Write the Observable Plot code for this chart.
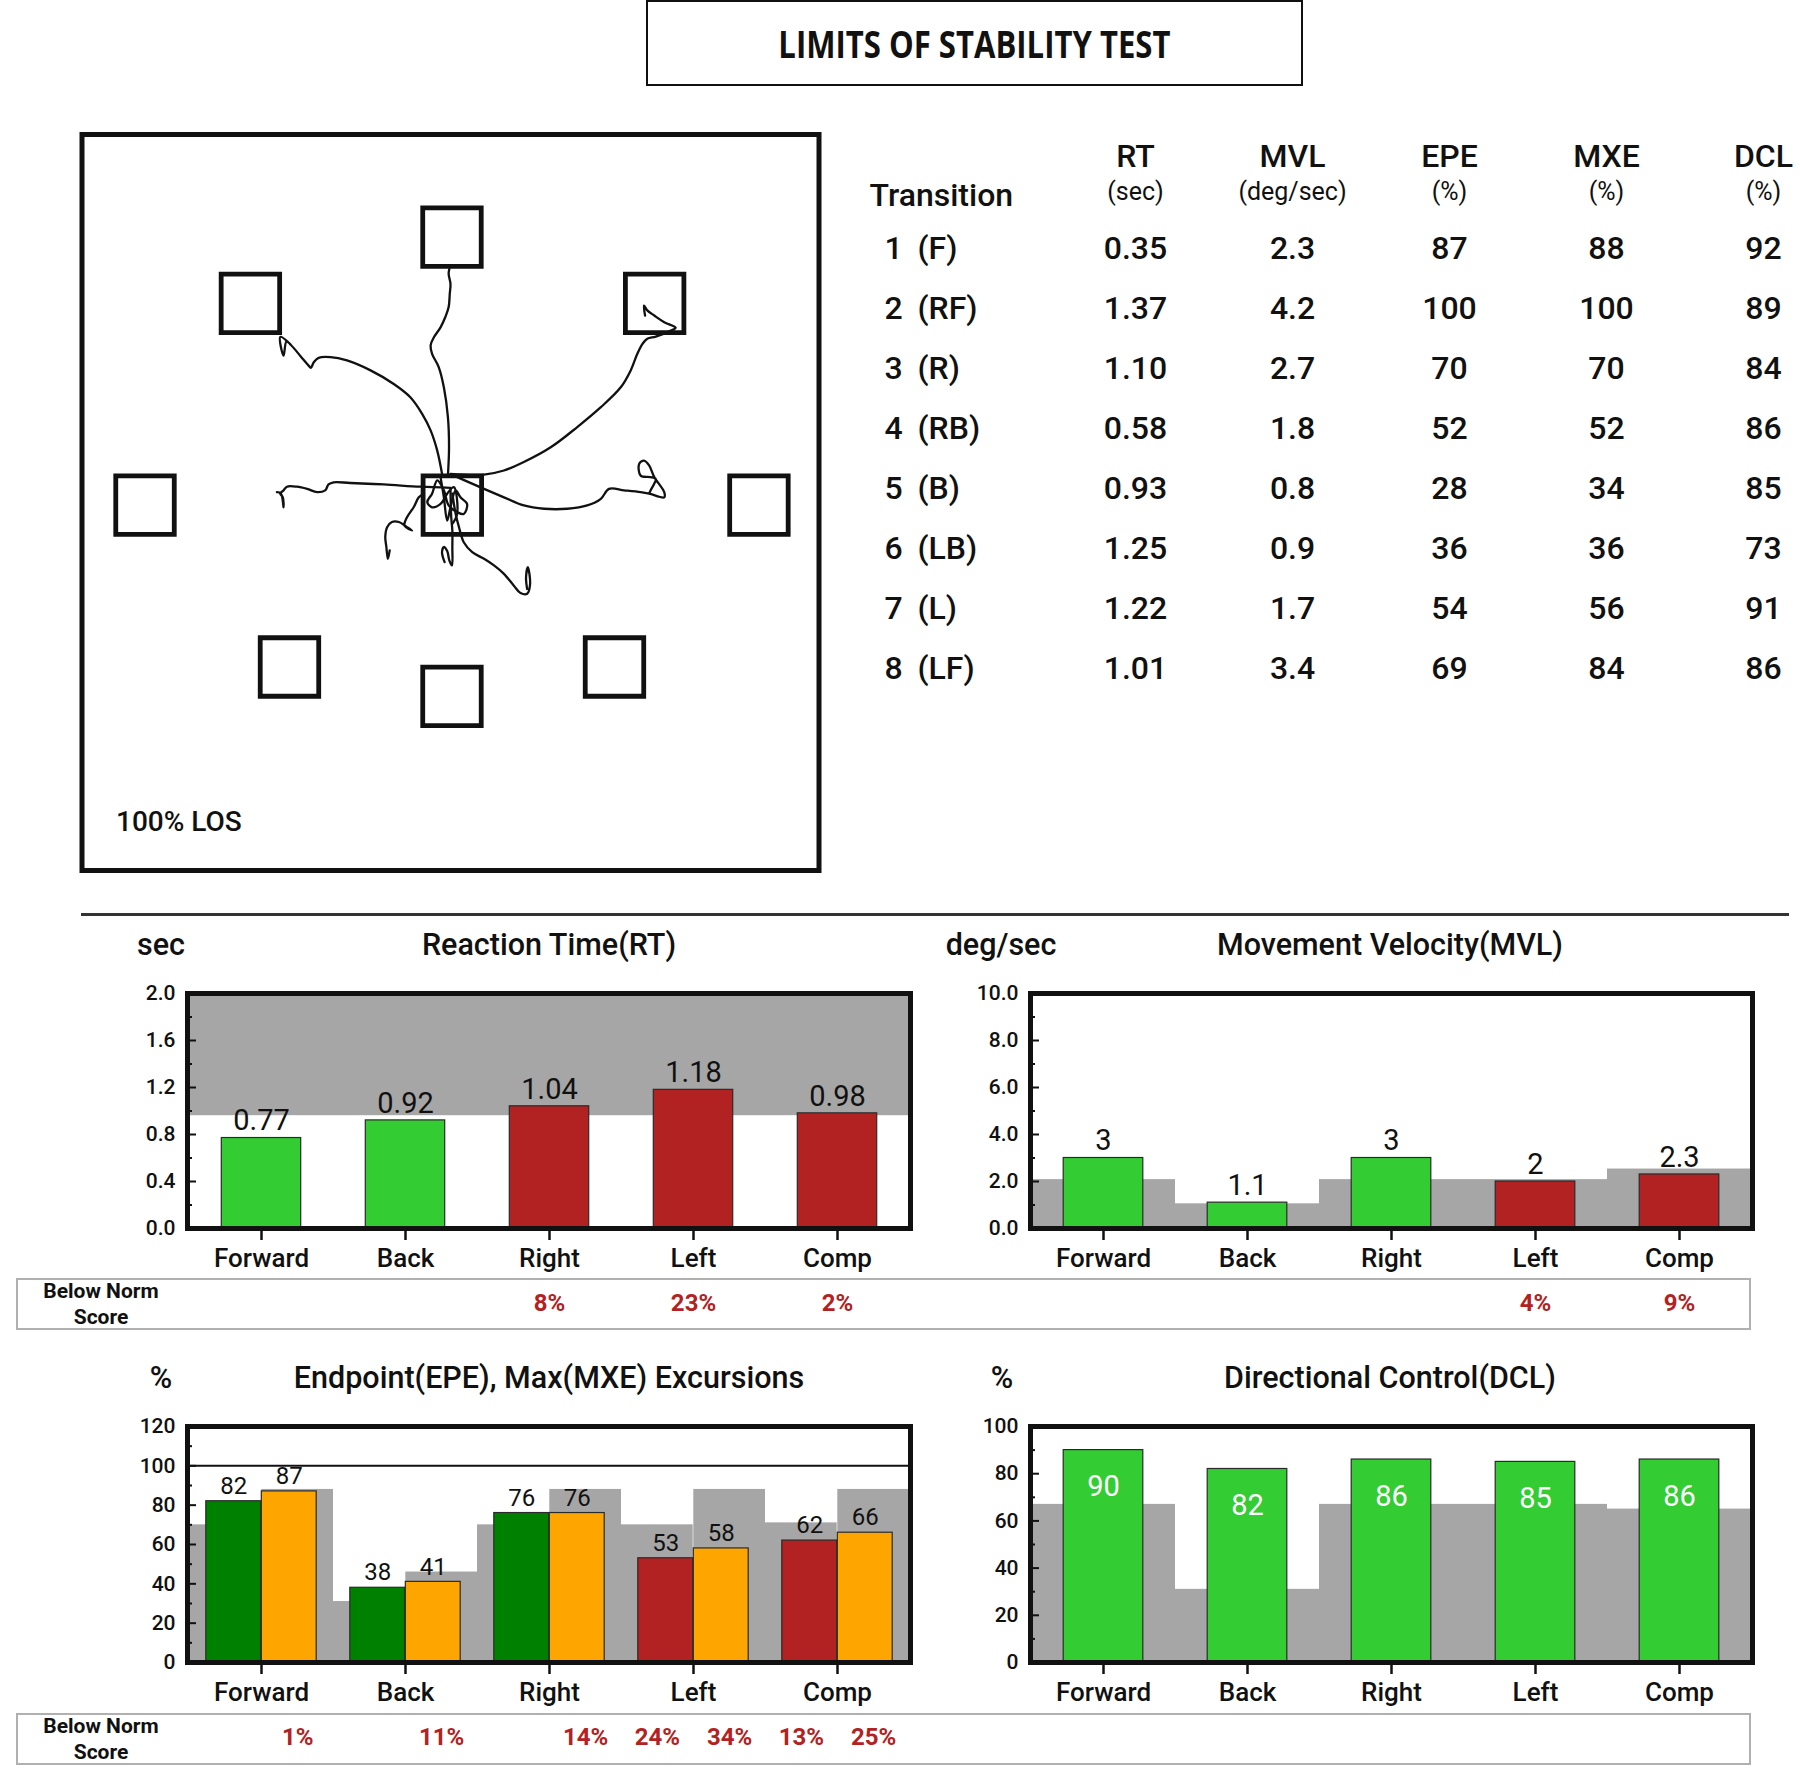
<!DOCTYPE html>
<html><head><meta charset="utf-8">
<script src="https://cdn.jsdelivr.net/npm/d3@7"></script>
<script src="https://cdn.jsdelivr.net/npm/@observablehq/plot@0.6"></script>
<style>
body{margin:0;background:#fff;}
#root{position:relative;width:1800px;height:1777px;font-family:Roboto,"Liberation Sans",sans-serif;color:#111;overflow:hidden;}
.abs{position:absolute;}
.ttl{position:absolute;transform:translate(-50%,-50%);font-size:30.5px;font-weight:500;white-space:nowrap;}
.box{position:absolute;border:2px solid #b0b0b0;box-sizing:border-box;}
.bn{position:absolute;transform:translate(-50%,-50%);font-size:21px;font-weight:700;white-space:nowrap;}
</style></head><body><div id="root"></div>
<script>
// ---------- data ----------
const categories = ["Forward","Back","Right","Left","Comp"];
const rtValues = [0.77,0.92,1.04,1.18,0.98];
const rtNorm = [0.96,0.96,0.96,0.96,0.96];
const rtMax = 2.0;
const rtBelow = ["","","8%","23%","2%"];
const mvlValues = [3,1.1,3,2,2.3];
const mvlNorm = [2.08,1.05,2.08,2.08,2.53];
const mvlBelow = ["","","","4%","9%"];
const epeValues = [82,38,76,53,62];
const mxeValues = [87,41,76,58,66];
const epeNorm = [70,31,70,70,71];
const mxeNorm = [88,46,88,88,88];
const epeBelow = ["","","","24%","13%"];
const mxeBelow = ["1%","11%","14%","34%","25%"];
const dclValues = [90,82,86,85,86];
const dclNorm = [67,31,67,67,65];

const rtTicks = [0,0.4,0.8,1.2,1.6,2.0];
const rtMinor = [0.2,0.6,1.0,1.4,1.8];
const mvlTicks = [0,2,4,6,8,10];
const mvlMinor = [1,3,5,7,9];
const epeTicks = [0,20,40,60,80,100,120];
const epeMinor = [10,30,50,70,90,110];
const dclTicks = [0,20,40,60,80,100];
const dclMinor = [10,30,50,70,90];

// table
const tableCols = ["RT","MVL","EPE","MXE","DCL"];
const tableUnits = ["(sec)","(deg/sec)","(%)","(%)","(%)"];
const transNums = ["1","2","3","4","5","6","7","8"];
const transDirs = ["(F)","(RF)","(R)","(RB)","(B)","(LB)","(L)","(LF)"];
const tRT = [0.35,1.37,1.10,0.58,0.93,1.25,1.22,1.01];
const tMVL = [2.3,4.2,2.7,1.8,0.8,0.9,1.7,3.4];
const tEPE = [87,100,70,52,28,36,54,69];
const tMXE = [88,100,70,52,34,36,56,84];
const tDCL = [92,89,84,86,85,73,91,86];

// LOS display (units: % of half display, center = 0)
const targetNames = ["C","F","RF","R","RB","B","LB","L","LF"];
const targetX = [0.5,0.4,55.4,83.7,44.5,0.4,-43.7,-82.9,-54.3];
const targetY = [-0.7,72.1,54.1,-0.7,-44.7,-52.7,-44.7,-0.7,54.1];
const traceF = [[-0.7,7.3],[-0.4,15.0],[-0.7,23.2],[-1.8,31.3],[-3.2,36.8],[-5.0,40.4],[-5.4,42.7],[-4.5,44.9],[-2.7,47.6],[-1.4,50.4],[-0.5,53.1],[-0.2,56.7],[0,59.4],[-0.5,62.1],[-0.3,63.5]];
const traceRF = [[0,7.8],[9.1,7.6],[14.5,8.7],[19.9,11.0],[27.2,15.0],[34.4,20.5],[40.8,25.9],[46.2,31.3],[48.9,35.9],[50.7,40.4],[52.1,43.1],[53.4,44.5],[55.7,45.1],[59.8,46.7],[61.1,47.5],[58.0,49.0],[55.3,50.8],[53.4,52.2],[52.5,53.5],[52.8,50.8]];
const traceR = [[0.9,7.3],[9.1,3.7],[14.5,1.4],[19.9,-0.8],[25.4,-1.7],[31.7,-1.7],[37.1,-0.8],[40.8,1.0],[43.0,3.7],[47.1,3.3],[51.6,2.8],[53.9,2.4],[58.0,1.4],[58.0,2.8],[55.3,6.9],[53.9,10.1],[52.5,11.4],[51.2,10.5],[51.6,7.3],[54.3,6.9],[55.7,6.4],[54.3,3.3],[53.9,2.4]];
const traceRB = [[0.5,2.4],[1.4,-3.1],[2.3,-6.7],[3.6,-10.8],[5.9,-13.5],[9.1,-15.3],[11.8,-17.1],[14.5,-19.4],[17.2,-22.6],[19.0,-24.6],[20.8,-24.8],[21.6,-22.1],[21.0,-17.6],[20.5,-20.3],[20.8,-23.5]];
const traceB = [[0,3.3],[0.2,-4.0],[0.5,-7.6],[0.5,-12.1],[0.4,-17.1],[-0.3,-15.8],[-0.9,-13.2],[-1.8,-12.1],[-2.3,-13.5],[-1.6,-16.2]];
const traceLB = [[-7.2,2.4],[-8.6,1.4],[-10.0,-1.3],[-11.8,-4.0],[-12.5,-6.3],[-10.4,-7.6],[-11.8,-6.7],[-14.0,-5.3],[-15.9,-5.3],[-17.2,-6.7],[-17.7,-9.4],[-17.4,-12.1],[-17.0,-15.3],[-16.5,-13.0]];
const traceL = [[0,4.0],[-8.2,4.3],[-18.1,4.9],[-27.2,5.3],[-31.7,5.5],[-33.1,4.9],[-34.0,3.3],[-36.2,2.8],[-38.9,3.7],[-41.7,4.3],[-44.4,4.3],[-45.3,3.3],[-46.2,2.4],[-45.5,1.4],[-45.3,-1.3],[-46.0,2.4],[-47.1,2.8]];
const traceLF = [[-2.3,7.8],[-3.6,14.1],[-5.4,19.6],[-7.7,24.1],[-10.9,28.6],[-15.4,32.2],[-21.7,35.9],[-28.1,38.6],[-32.6,39.5],[-35.8,39.3],[-37.1,38.1],[-37.9,36.6],[-38.5,37.2],[-40.8,39.9],[-43.3,42.8],[-44.5,43.8],[-45.3,39.9],[-46.2,45.0],[-44.0,43.5]];
const traceC = [[-2.7,6.9],[-1.8,1.4],[-0.9,-4.9],[0,-1.3],[1.4,3.3],[2.7,1.4],[4.5,-0.4],[3.6,-3.1],[1.8,-2.6],[-0.5,-0.8],[-1.8,3.3],[-3.6,6.0],[-5.0,2.4],[-6.3,0.1],[-5.0,-1.3],[-2.7,-0.4],[-0.9,2.4],[0.9,4.2],[1.8,-3.1],[0.5,-5.8]];

// ---------- style ----------
const GRAY = "#a6a6a6", GREEN = "#33cc33", RED = "#b22222", DKGREEN = "#008000", ORANGE = "#ffa500";
const FONT = "Roboto, 'Liberation Sans', sans-serif";
const root = document.getElementById("root");
function place(el, left, top){ const d = document.createElement("div"); d.className="abs"; d.style.left=left+"px"; d.style.top=top+"px"; d.appendChild(el); root.appendChild(d); return d; }
function html(cls, text, left, top, extra){ const d=document.createElement("div"); d.className=cls; d.textContent=text; d.style.left=left+"px"; d.style.top=top+"px"; if(extra) Object.assign(d.style, extra); root.appendChild(d); return d; }
const baseStyle = {fontFamily: FONT, fontSize: "20px", color: "#111", background: "transparent", overflow: "visible", maxWidth: "none"};

// Title box
const tb = document.createElement("div");
Object.assign(tb.style, {position:"absolute", left:"646px", top:"0px", width:"657px", height:"86px", border:"2px solid #111", boxSizing:"border-box", display:"flex", alignItems:"center", justifyContent:"center"});
const tspan = document.createElement("span");
Object.assign(tspan.style, {fontFamily:"'Open Sans',Roboto,sans-serif", fontWeight:"700", fontSize:"37px", display:"inline-block", transform:"scaleX(0.84)", whiteSpace:"nowrap"});
tspan.textContent = "LIMITS OF STABILITY TEST";
tb.appendChild(tspan);
root.appendChild(tb);

// ---------- LOS display ----------
const traceSets = [["F",traceF],["RF",traceRF],["R",traceR],["RB",traceRB],["B",traceB],["LB",traceLB],["L",traceL],["LF",traceLF],["C",traceC]];
const traceRows = traceSets.flatMap(([name, pts]) => pts.map(([x,y]) => ({trace:name, x, y})));
const targets = targetNames.map((n,i)=>({name:n, x:targetX[i], y:targetY[i]}));
place(Plot.plot({
  width:780, height:775, marginLeft:21.5, marginRight:21.5, marginTop:19, marginBottom:20,
  style: baseStyle,
  x:{domain:[-100,100], axis:null}, y:{domain:[-100,100], axis:null},
  marks:[
    Plot.frame({stroke:"#111", strokeWidth:5}),
    Plot.line(traceRows, {x:"x", y:"y", z:"trace", stroke:"#111", strokeWidth:2.3, curve:"catmull-rom"}),
    Plot.dot(targets, {x:"x", y:"y", symbol:"square", r:33, stroke:"#111", strokeWidth:4.8, fill:"none"}),
    Plot.text(["100% LOS"], {text:d=>d, frameAnchor:"bottom-left", dx:34, dy:-40, textAnchor:"start", fontSize:28, fontWeight:500})
  ]
}), 60, 115);

// ---------- table ----------
const tableVals = [tRT.map(d3.format(".2f")), tMVL.map(d3.format(".1f")), tEPE.map(String), tMXE.map(String), tDCL.map(String)];
const cells = transNums.flatMap((r,i)=>tableCols.map((c,j)=>({row:r, col:c, text:tableVals[j][i]})));
place(Plot.plot({
  width:950, height:600, marginLeft:284, marginRight:36, marginTop:146, marginBottom:31,
  style: baseStyle,
  x:{type:"point", domain:tableCols, padding:0, axis:null}, y:{type:"point", domain:transNums, padding:0, axis:null},
  marks:[
    Plot.text(cells, {x:"col", y:"row", text:"text", fontSize:32, fontWeight:500}),
    Plot.text(tableCols, {x:d=>d, text:d=>d, frameAnchor:"top", dy:-102, fontSize:32, fontWeight:500}),
    Plot.text(tableUnits, {x:(d,i)=>tableCols[i], text:d=>d, frameAnchor:"top", dy:-64, fontSize:25}),
    Plot.text(["Transition"], {text:d=>d, frameAnchor:"top-left", dx:-265, dy:-63, textAnchor:"start", fontSize:32, fontWeight:500}),
    Plot.text(transNums, {y:d=>d, text:d=>d, frameAnchor:"left", dx:-250, fontSize:32, fontWeight:500}),
    Plot.text(transDirs, {y:(d,i)=>transNums[i], text:d=>d, frameAnchor:"left", dx:-217, textAnchor:"start", fontSize:32, fontWeight:500})
  ]
}), 850, 100);

// separator
const sep = document.createElement("div");
Object.assign(sep.style, {position:"absolute", left:"81px", top:"913px", width:"1708px", height:"2.5px", background:"#333"});
root.appendChild(sep);

// ---------- bar chart helpers ----------
function axes(ticks, minor, fmt, frameW){
  return [
    Plot.axisY({ticks, tickFormat:fmt, tickSize:0, tickPadding:12, fontSize:21, fontWeight:500, label:null}),
    Plot.tickY(minor, {y:d=>d, insetRight:frameW-5, stroke:"#111", strokeWidth:2}),
    Plot.tickY(ticks, {y:d=>d, insetRight:frameW-9, stroke:"#111", strokeWidth:2}),
    Plot.axisX({tickSize:12, tickPadding:8, fontSize:26, fontWeight:500, strokeWidth:2.5, label:null}),
    Plot.frame({stroke:"#111", strokeWidth:5})
  ];
}
const BAR_W = 80;
const PCT = {frameAnchor:"bottom", dy:82, fill:RED, fontSize:24, fontWeight:700};

// RT
{
  const W=840,H=345,ml=87,mr=30,mt=18,mb=92, fw=W-ml-mr, bw=fw/5, ins=(bw-BAR_W)/2;
  const rows = categories.map((c,i)=>({cat:c, v:rtValues[i], n:rtNorm[i], below:rtBelow[i]}));
  place(Plot.plot({
    width:W, height:H, marginLeft:ml, marginRight:mr, marginTop:mt, marginBottom:mb, style:baseStyle,
    x:{domain:categories, padding:0}, y:{domain:[0,rtMax]}, color:{type:"identity"},
    marks:[
      Plot.barY(rows, {x:"cat", y1:"n", y2:()=>rtMax, fill:GRAY}),
      Plot.barY(rows, {x:"cat", y:"v", fill:d=>d.v>d.n?RED:GREEN, stroke:"#2a2a2a", strokeWidth:1.2, insetLeft:ins, insetRight:ins}),
      Plot.text(rows, {x:"cat", y:"v", text:d=>d3.format(".2f")(d.v), dy:-17, fontSize:29}),
      Plot.text(rows, {x:"cat", text:"below", ...PCT}),
      ...axes(rtTicks, rtMinor, d3.format(".1f"), fw)
    ]
  }), 100, 975);
}
// MVL
{
  const W=850,H=345,ml=90,mr=38,mt=18,mb=92, fw=W-ml-mr, bw=fw/5, ins=(bw-BAR_W)/2;
  const rows = categories.map((c,i)=>({cat:c, v:mvlValues[i], n:mvlNorm[i], below:mvlBelow[i]}));
  place(Plot.plot({
    width:W, height:H, marginLeft:ml, marginRight:mr, marginTop:mt, marginBottom:mb, style:baseStyle,
    x:{domain:categories, padding:0}, y:{domain:[0,10]}, color:{type:"identity"},
    marks:[
      Plot.barY(rows, {x:"cat", y:"n", fill:GRAY}),
      Plot.barY(rows, {x:"cat", y:"v", fill:d=>d.v<d.n?RED:GREEN, stroke:"#2a2a2a", strokeWidth:1.2, insetLeft:ins, insetRight:ins}),
      Plot.text(rows, {x:"cat", y:"v", text:d=>String(d.v), dy:-17, fontSize:29}),
      Plot.text(rows, {x:"cat", text:"below", ...PCT}),
      ...axes(mvlTicks, mvlMinor, d3.format(".1f"), fw)
    ]
  }), 940, 975);
}
// EPE / MXE
{
  const W=840,H=372,ml=87,mr=30,mt=21,mb=115, fw=W-ml-mr, bw=fw/5, half=bw/2, sub=55.5, gap=half-sub;
  const rows = categories.map((c,i)=>({cat:c, e:epeValues[i], m:mxeValues[i], en:epeNorm[i], mn:mxeNorm[i], eb:epeBelow[i], mb:mxeBelow[i]}));
  place(Plot.plot({
    width:W, height:H, marginLeft:ml, marginRight:mr, marginTop:mt, marginBottom:mb, style:baseStyle,
    x:{domain:categories, padding:0}, y:{domain:[0,120]}, color:{type:"identity"},
    marks:[
      Plot.barY(rows, {x:"cat", y:"en", fill:GRAY, insetRight:half}),
      Plot.barY(rows, {x:"cat", y:"mn", fill:GRAY, insetLeft:half}),
      Plot.ruleY([100], {stroke:"#111", strokeWidth:2}),
      Plot.barY(rows, {x:"cat", y:"e", fill:d=>d.e<d.en?RED:DKGREEN, stroke:"#2a2a2a", strokeWidth:1.2, insetLeft:gap, insetRight:half}),
      Plot.barY(rows, {x:"cat", y:"m", fill:ORANGE, stroke:"#2a2a2a", strokeWidth:1.2, insetLeft:half, insetRight:gap}),
      Plot.text(rows, {x:"cat", y:"e", text:d=>String(d.e), dx:-sub/2, dy:-15, fontSize:24}),
      Plot.text(rows, {x:"cat", y:"m", text:d=>String(d.m), dx:sub/2, dy:-15, fontSize:24}),
      Plot.text(rows, {x:"cat", text:"eb", dx:-half/2, ...PCT}),
      Plot.text(rows, {x:"cat", text:"mb", dx:half/2, ...PCT}),
      ...axes(epeTicks, epeMinor, d3.format("d"), fw)
    ]
  }), 100, 1405);
}
// DCL
{
  const W=850,H=372,ml=90,mr=38,mt=21,mb=115, fw=W-ml-mr, bw=fw/5, ins=(bw-BAR_W)/2;
  const rows = categories.map((c,i)=>({cat:c, v:dclValues[i], n:dclNorm[i]}));
  place(Plot.plot({
    width:W, height:H, marginLeft:ml, marginRight:mr, marginTop:mt, marginBottom:mb, style:baseStyle,
    x:{domain:categories, padding:0}, y:{domain:[0,100]}, color:{type:"identity"},
    marks:[
      Plot.barY(rows, {x:"cat", y:"n", fill:GRAY}),
      Plot.barY(rows, {x:"cat", y:"v", fill:d=>d.v<d.n?RED:GREEN, stroke:"#2a2a2a", strokeWidth:1.2, insetLeft:ins, insetRight:ins}),
      Plot.text(rows, {x:"cat", y:"v", text:d=>String(d.v), dy:37, fill:"white", fontSize:29}),
      ...axes(dclTicks, dclMinor, d3.format("d"), fw)
    ]
  }), 940, 1405);
}

// titles
html("ttl","sec",161,944);
html("ttl","Reaction Time(RT)",549,944);
html("ttl","deg/sec",1001,944);
html("ttl","Movement Velocity(MVL)",1390,944);
html("ttl","%",161,1377);
html("ttl","Endpoint(EPE), Max(MXE) Excursions",549,1377);
html("ttl","%",1002,1377);
html("ttl","Directional Control(DCL)",1390,1377);

// below norm boxes
for (const [top, y1, y2] of [[1278,1291,1317],[1713,1726,1752]]) {
  const b = document.createElement("div"); b.className="box";
  Object.assign(b.style, {left:"16px", top:top+"px", width:"1735px", height:"52px"});
  root.appendChild(b);
  html("bn","Below Norm",101,y1);
  html("bn","Score",101,y2);
}
</script></body></html>
